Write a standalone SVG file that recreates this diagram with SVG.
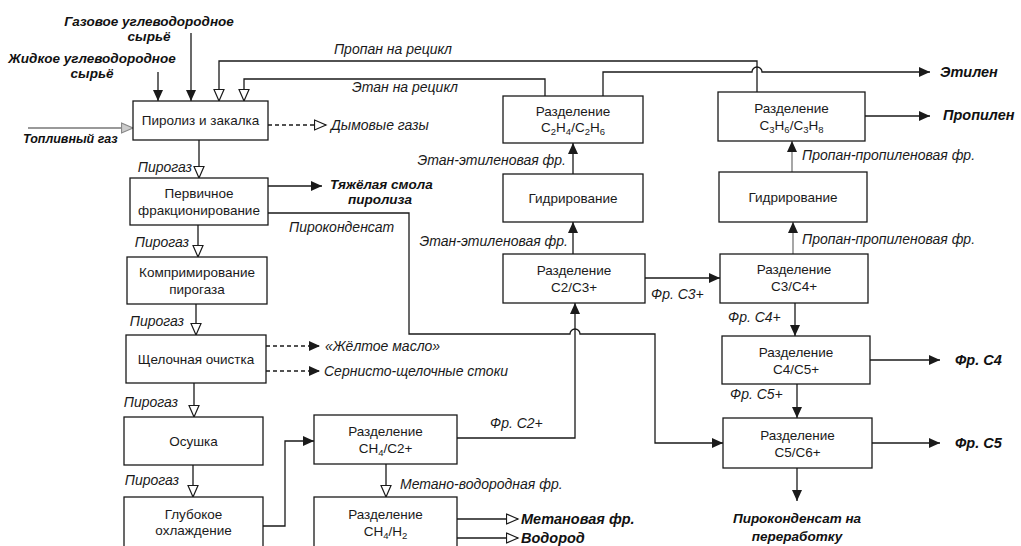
<svg xmlns="http://www.w3.org/2000/svg" width="1021" height="546" viewBox="0 0 1021 546">
<style>
.box{fill:#fff;stroke:#1a1a1a;stroke-width:1.3}
.t{font-family:"Liberation Sans",Arial,sans-serif;font-size:13.5px;text-anchor:middle;fill:#1a1a1a}
.l{font-family:"Liberation Sans",Arial,sans-serif;font-size:14px;font-style:italic;fill:#1a1a1a}
.b{font-family:"Liberation Sans",Arial,sans-serif;font-size:13.5px;font-style:italic;font-weight:bold;fill:#111}
.br{font-size:14.5px}
.ln{fill:none;stroke:#1a1a1a;stroke-width:1.3}
.gr{stroke:#777}
.d{stroke-dasharray:4 3}
.e{text-anchor:end}
.m{text-anchor:middle}
</style>
<defs>
<marker id="f" markerUnits="userSpaceOnUse" markerWidth="12" markerHeight="10" refX="11" refY="5" orient="auto"><path d="M0,0 L11,5 L0,10 z" fill="#1a1a1a"/></marker>
<marker id="h" markerUnits="userSpaceOnUse" markerWidth="14" markerHeight="12" refX="12.5" refY="6" orient="auto"><path d="M1,1 L12.5,6 L1,11 z" fill="#fff" stroke="#1a1a1a" stroke-width="1.2"/></marker>
<marker id="hg" markerUnits="userSpaceOnUse" markerWidth="14" markerHeight="12" refX="12.5" refY="6" orient="auto"><path d="M1,1 L12.5,6 L1,11 z" fill="#ccc" stroke="#888" stroke-width="1.2"/></marker>
</defs>
<rect width="1021" height="546" fill="#fff"/>

<g id="connectors">
<path class="ln" d="M191,33 V101" marker-end="url(#f)"/>
<path class="ln" d="M158,72 V101" marker-end="url(#f)"/>
<path class="ln gr" d="M28,128 H133" marker-end="url(#hg)"/>
<path class="ln" d="M757,92 V61 H219 V101" marker-end="url(#h)"/>
<path class="ln" d="M545,96 V79 H244 V101" marker-end="url(#h)"/>
<path class="ln" d="M603,96 V72 H752 a5,5 0 0 1 10,0 H930" marker-end="url(#f)"/>
<path class="ln" d="M865,116 H930" marker-end="url(#f)"/>
<path class="ln d" d="M268,125 H326" marker-end="url(#h)"/>
<path class="ln" d="M199,140 V178" marker-end="url(#h)"/>
<path class="ln" d="M268,186 H322" marker-end="url(#f)"/>
<path class="ln" d="M268,213 H409 V334 H570 a5,5 0 0 1 10,0 H655 V443 H723" marker-end="url(#f)"/>
<path class="ln" d="M198,225 V257" marker-end="url(#h)"/>
<path class="ln" d="M196,304 V335" marker-end="url(#h)"/>
<path class="ln d" d="M266,346 H320" marker-end="url(#f)"/>
<path class="ln d" d="M266,371 H320" marker-end="url(#f)"/>
<path class="ln" d="M194,383 V417" marker-end="url(#h)"/>
<path class="ln" d="M193,465 V497" marker-end="url(#h)"/>
<path class="ln" d="M263,526 H285 V441 H314" marker-end="url(#f)"/>
<path class="ln" d="M386,464 V497" marker-end="url(#h)"/>
<path class="ln" d="M457,519 H518" marker-end="url(#h)"/>
<path class="ln" d="M457,538 H518" marker-end="url(#h)"/>
<path class="ln" d="M457,438 H575 V303" marker-end="url(#f)"/>
<path class="ln" d="M573,254 V222" marker-end="url(#f)"/>
<path class="ln" d="M573,174 V143" marker-end="url(#f)"/>
<path class="ln" d="M645,278 H720" marker-end="url(#f)"/>
<path class="ln gr" d="M793,254 V222" marker-end="url(#f)"/>
<path class="ln gr" d="M792,172 V141" marker-end="url(#f)"/>
<path class="ln" d="M795,303 V336" marker-end="url(#f)"/>
<path class="ln" d="M870,360 H940" marker-end="url(#f)"/>
<path class="ln" d="M797,384 V418" marker-end="url(#f)"/>
<path class="ln" d="M872,443 H940" marker-end="url(#f)"/>
<path class="ln" d="M797,468 V501" marker-end="url(#f)"/>
</g>

<g id="labels">
<text class="b m" x="149" y="26">Газовое углеводородное</text>
<text class="b m" x="149" y="41">сырьё</text>
<text class="b m" x="92" y="63">Жидкое углеводородное</text>
<text class="b m" x="92" y="78">сырьё</text>
<text class="b" x="23" y="143" style="font-size:12.5px">Топливный газ</text>
<text class="l m" x="393" y="54">Пропан на рецикл</text>
<text class="l m" x="405" y="92">Этан на рецикл</text>
<text class="b br" x="940" y="77">Этилен</text>
<text class="b br" x="943" y="120">Пропилен</text>
<text class="l" x="331" y="130">Дымовые газы</text>
<text class="l e" x="192" y="172">Пирогаз</text>
<text class="b" x="330" y="189">Тяжёлая смола</text>
<text class="b m" x="380" y="204">пиролиза</text>
<text class="l" x="289" y="232">Пироконденсат</text>
<text class="l e" x="189" y="247">Пирогаз</text>
<text class="l e" x="184" y="326">Пирогаз</text>
<text class="l" x="325" y="351">«Жёлтое масло»</text>
<text class="l" x="324" y="376">Сернисто-щелочные стоки</text>
<text class="l e" x="178" y="407">Пирогаз</text>
<text class="l e" x="179" y="485">Пирогаз</text>
<text class="l" x="400" y="489">Метано-водородная фр.</text>
<text class="b br" x="521" y="524">Метановая фр.</text>
<text class="b br" x="521" y="543">Водород</text>
<text class="l" x="490" y="428">Фр. С2+</text>
<text class="l e" x="566" y="165">Этан-этиленовая фр.</text>
<text class="l e" x="568" y="246">Этан-этиленовая фр.</text>
<text class="l" x="802" y="160">Пропан-пропиленовая фр.</text>
<text class="l" x="802" y="244">Пропан-пропиленовая фр.</text>
<text class="l" x="651" y="299">Фр. С3+</text>
<text class="l" x="728" y="322">Фр. С4+</text>
<text class="l" x="730" y="399">Фр. С5+</text>
<text class="b br" x="955" y="365">Фр. С4</text>
<text class="b br" x="955" y="448">Фр. С5</text>
<text class="b m" x="797" y="523">Пироконденсат на</text>
<text class="b m" x="797" y="541">переработку</text>
</g>

<g id="n-pyrolysis"><rect class="box" x="133" y="101" width="135" height="39"/><text class="t" x="200.5" y="125">Пиролиз и закалка</text></g>
<g id="n-primary"><rect class="box" x="130" y="178" width="138" height="47"/><text class="t" x="199" y="198">Первичное</text><text class="t" x="199" y="215">фракционирование</text></g>
<g id="n-compress"><rect class="box" x="127" y="257" width="140" height="47"/><text class="t" x="197" y="277">Компримирование</text><text class="t" x="197" y="294">пирогаза</text></g>
<g id="n-alkali"><rect class="box" x="126" y="335" width="140" height="48"/><text class="t" x="196" y="364">Щелочная очистка</text></g>
<g id="n-dry"><rect class="box" x="124" y="417" width="139" height="48"/><text class="t" x="193.5" y="446">Осушка</text></g>
<g id="n-deepcool"><rect class="box" x="124" y="497" width="139" height="51"/><text class="t" x="193.5" y="519">Глубокое</text><text class="t" x="193.5" y="535">охлаждение</text></g>
<g id="n-ch4c2"><rect class="box" x="314" y="415" width="143" height="49"/><text class="t" x="385.5" y="436">Разделение</text><text class="t" x="385.5" y="453">CH<tspan font-size="9.5" dy="3">4</tspan><tspan dy="-3">/C2+</tspan></text></g>
<g id="n-ch4h2"><rect class="box" x="314" y="497" width="143" height="51"/><text class="t" x="385.5" y="519">Разделение</text><text class="t" x="385.5" y="536">CH<tspan font-size="9.5" dy="3">4</tspan><tspan dy="-3">/H</tspan><tspan font-size="9.5" dy="3">2</tspan></text></g>
<g id="n-c2h4c2h6"><rect class="box" x="503" y="96" width="140" height="47"/><text class="t" x="573" y="116">Разделение</text><text class="t" x="573" y="132">C<tspan font-size="9.5" dy="3">2</tspan><tspan dy="-3">H</tspan><tspan font-size="9.5" dy="3">4</tspan><tspan dy="-3">/C</tspan><tspan font-size="9.5" dy="3">2</tspan><tspan dy="-3">H</tspan><tspan font-size="9.5" dy="3">6</tspan></text></g>
<g id="n-hydro1"><rect class="box" x="503" y="174" width="140" height="48"/><text class="t" x="573" y="203">Гидрирование</text></g>
<g id="n-c2c3"><rect class="box" x="503" y="254" width="142" height="49"/><text class="t" x="574" y="275">Разделение</text><text class="t" x="574" y="292">C2/C3+</text></g>
<g id="n-c3h6c3h8"><rect class="box" x="718" y="92" width="147" height="49"/><text class="t" x="791.5" y="113">Разделение</text><text class="t" x="791.5" y="130">C<tspan font-size="9.5" dy="3">3</tspan><tspan dy="-3">H</tspan><tspan font-size="9.5" dy="3">6</tspan><tspan dy="-3">/C</tspan><tspan font-size="9.5" dy="3">3</tspan><tspan dy="-3">H</tspan><tspan font-size="9.5" dy="3">8</tspan></text></g>
<g id="n-hydro2"><rect class="box" x="719" y="172" width="148" height="50"/><text class="t" x="793" y="202">Гидрирование</text></g>
<g id="n-c3c4"><rect class="box" x="720" y="254" width="148" height="49"/><text class="t" x="794" y="274">Разделение</text><text class="t" x="794" y="291">C3/C4+</text></g>
<g id="n-c4c5"><rect class="box" x="722" y="336" width="148" height="48"/><text class="t" x="796" y="357">Разделение</text><text class="t" x="796" y="374">C4/C5+</text></g>
<g id="n-c5c6"><rect class="box" x="723" y="418" width="149" height="50"/><text class="t" x="797.5" y="440">Разделение</text><text class="t" x="797.5" y="457">C5/C6+</text></g>
</svg>
